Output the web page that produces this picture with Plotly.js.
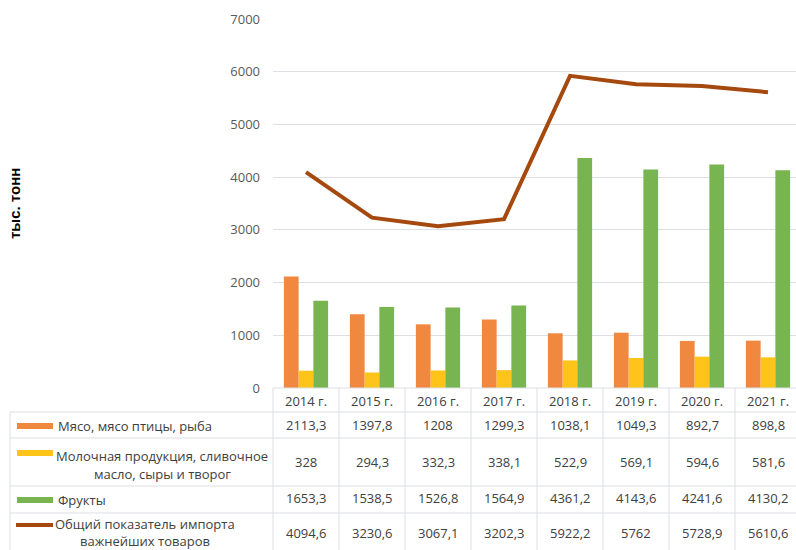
<!DOCTYPE html>
<html>
<head>
<meta charset="utf-8">
<script src="https://cdn.plot.ly/plotly-3.0.1.min.js"></script>
<style>html,body{margin:0;padding:0;background:#fff;}#chart{width:796px;height:550px;}</style>
</head>
<body>
<div id="chart"></div>
<script>
// ---- data ----
const years = ["2014 г.", "2015 г.", "2016 г.", "2017 г.", "2018 г.", "2019 г.", "2020 г.", "2021 г."];
const meat = [2113.3, 1397.8, 1208, 1299.3, 1038.1, 1049.3, 892.7, 898.8];
const dairy = [328, 294.3, 332.3, 338.1, 522.9, 569.1, 594.6, 581.6];
const fruits = [1653.3, 1538.5, 1526.8, 1564.9, 4361.2, 4143.6, 4241.6, 4130.2];
const total = [4094.6, 3230.6, 3067.1, 3202.3, 5922.2, 5762, 5728.9, 5610.6];
const seriesNames = ["Мясо, мясо птицы, рыба", "Молочная продукция, сливочное масло, сыры и творог", "Фрукты", "Общий показатель импорта важнейших товаров"];
const rowLabelLines = [["Мясо, мясо птицы, рыба"], ["Молочная продукция, сливочное", "масло, сыры и творог"], ["Фрукты"], ["Общий показатель импорта", "важнейших товаров"]];
const yTicks = [0, 1000, 2000, 3000, 4000, 5000, 6000, 7000];
const yTitle = "тыс. тонн";

// ---- layout geometry ----
const ML = 273, MT = 19, MB = 162, MR = 0, W = 796, H = 550;
const PW = W - ML - MR, PH = H - MT - MB;
const CAT = 66;
const px = X => (X - ML) / PW;
const py = Y => (MT + PH - Y) / PH;

const colors = {meat: "#F08840", dairy: "#FFC41A", fruits: "#78B450", total: "#A5490F"};
const gridColor = "#DCDFE4";
const textColor = "#404040";
const font = "'Open Sans', 'Noto Sans', sans-serif";
const fmt = v => String(v).replace('.', ',');

const traces = [
  {type: 'bar', x: years, y: meat, name: seriesNames[0], marker: {color: colors.meat}},
  {type: 'bar', x: years, y: dairy, name: seriesNames[1], marker: {color: colors.dairy}},
  {type: 'bar', x: years, y: fruits, name: seriesNames[2], marker: {color: colors.fruits}},
  {type: 'scatter', mode: 'lines', x: years, y: total, name: seriesNames[3], line: {color: colors.total, width: 4}}
];

const shapes = [];
const annotations = [];
const line = (xref, x0, x1, y0, y1) => shapes.push({type: 'line', xref: xref, yref: 'paper', x0: x0, x1: x1, y0: y0, y1: y1, line: {color: gridColor, width: 1}});

// table horizontal lines
line('paper', 0, 1, py(388), py(388));
[412, 438, 486, 513].forEach(Y => line('paper', px(10), 1, py(Y), py(Y)));
// vertical lines
line('paper', 0, 0, py(388), py(551));
line('paper', px(10), px(10), py(412), py(551));
for (let i = 1; i <= years.length; i++) line('x', i - 0.5, i - 0.5, py(388), py(551));

// header & values
const rows = [meat, dairy, fruits, total];
const rowY = [425, 462, 498, 533];
years.forEach((yr, i) => {
  annotations.push({xref: 'x', yref: 'paper', x: yr, y: py(401), text: yr, showarrow: false, xanchor: 'center', yanchor: 'middle', font: {family: font, size: 13, color: textColor}});
  rows.forEach((r, k) => {
    annotations.push({xref: 'x', yref: 'paper', x: yr, y: py(rowY[k]), text: fmt(r[i]), showarrow: false, xanchor: 'center', yanchor: 'middle', font: {family: font, size: 13, color: textColor}});
  });
});

// row labels
const labelY = [[426], [456, 474], [500], [524, 541]];
const labelCenter = [null, 162, null, 145];
rowLabelLines.forEach((lines, k) => {
  lines.forEach((t, j) => {
    const single = lines.length === 1;
    annotations.push({xref: 'paper', yref: 'paper', x: single ? px(57) : px(labelCenter[k]), y: py(labelY[k][j]), text: t, showarrow: false, borderpad: 0,
      xanchor: single ? 'left' : 'center', yanchor: 'middle', font: {family: font, size: 13, color: textColor}});
  });
});

// legend keys
const swatch = (x0, x1, y0, y1, c) => shapes.push({type: 'rect', xref: 'paper', yref: 'paper', x0: px(x0), x1: px(x1), y0: py(y0), y1: py(y1), fillcolor: c, line: {width: 0}});
swatch(17, 53, 423, 429, colors.meat);
swatch(17, 53, 450, 456, colors.dairy);
swatch(17, 53, 497, 503, colors.fruits);
shapes.push({type: 'line', xref: 'paper', yref: 'paper', x0: px(16), x1: px(53), y0: py(525), y1: py(525), line: {color: colors.total, width: 4}});

// y title
annotations.push({xref: 'paper', yref: 'paper', x: px(15), y: py(204), text: '<b>' + yTitle + '</b>', textangle: -90, showarrow: false, xanchor: 'center', yanchor: 'middle', font: {family: "'Liberation Sans', Arial, sans-serif", size: 15, color: '#000'}});

const layout = {
  width: W, height: H,
  margin: {l: ML, r: MR, t: MT, b: MB, pad: 0},
  paper_bgcolor: '#fff', plot_bgcolor: '#fff',
  showlegend: false,
  barmode: 'group', bargap: 0.33, bargroupgap: 0,
  xaxis: {type: 'category', range: [-0.5, -0.5 + PW / CAT], showticklabels: false, showgrid: false, zeroline: false, showline: false, ticks: '', fixedrange: true},
  yaxis: {range: [0, 7000], tickvals: yTicks, ticktext: yTicks.map(String), showgrid: true, gridcolor: gridColor, gridwidth: 1, zeroline: false, showline: false,
    ticks: '', ticklabelstandoff: 12, tickfont: {family: font, size: 13, color: '#595959'}, fixedrange: true},
  shapes: shapes,
  annotations: annotations
};

Plotly.newPlot('chart', traces, layout, {displayModeBar: false, staticPlot: true});
</script>
</body>
</html>
